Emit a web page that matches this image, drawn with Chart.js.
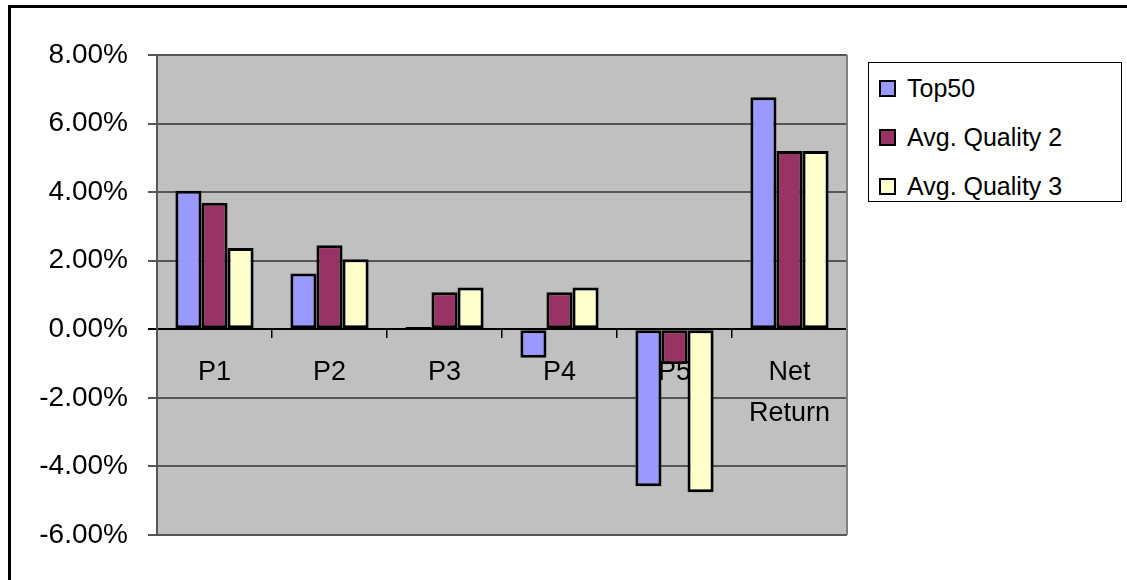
<!DOCTYPE html>
<html>
<head>
<meta charset="utf-8">
<script src="https://cdn.jsdelivr.net/npm/chart.js@4.4.0/dist/chart.umd.min.js"></script>
<style>
  html, body { margin: 0; padding: 0; background: #fff; overflow: hidden; }
  #wrap { position: relative; width: 1127px; height: 580px; }
  #legend {
    position: absolute; left: 868px; top: 62px; width: 254px; height: 140px;
    border: 1px solid #000; background: #fff; box-sizing: border-box;
    font-family: "Liberation Sans", Arial, sans-serif; font-size: 25px; color: #000;
  }
  .item { position: absolute; left: 10px; height: 30px; display: flex; align-items: center; white-space: nowrap; }
  .box { width: 13px; height: 13px; border: 2px solid #000; margin-right: 11px; }
</style>
</head>
<body>
<div id="wrap">
  <canvas id="bar-chart" width="1127" height="580"></canvas>
  <div id="legend"></div>
</div>
<script>
const categories = ["P1", "P2", "P3", "P4", "P5", ["Net", "Return"]];
const seriesNames = ["Top50", "Avg. Quality 2", "Avg. Quality 3"];
const top50 = [4.04, 1.63, 0.07, -0.83, -4.58, 6.77];
const quality2 = [3.69, 2.45, 1.08, 1.08, -1.02, 5.20];
const quality3 = [2.37, 2.04, 1.22, 1.22, -4.75, 5.20];
const yTicks = [-6, -4, -2, 0, 2, 4, 6, 8];

const fontFamily = '"Liberation Sans", Arial, sans-serif';

// grey plot area + outer frame
const plotFrame = {
  id: "plotFrame",
  beforeDraw(chart) {
    const ctx = chart.ctx;
    const a = chart.chartArea;
    ctx.save();
    ctx.fillStyle = "#fff";
    ctx.fillRect(0, 0, chart.width, chart.height);
    ctx.lineWidth = 3;
    ctx.strokeStyle = "#000";
    ctx.strokeRect(9.5, 6.5, chart.width + 50, chart.height + 50);
    ctx.fillStyle = "#c0c0c0";
    ctx.fillRect(a.left, a.top, a.right - a.left, a.bottom - a.top);
    ctx.restore();
  },
  afterDraw(chart) {
    const ctx = chart.ctx;
    const a = chart.chartArea;
    ctx.save();
    ctx.strokeStyle = "#808080";
    ctx.lineWidth = 2;
    ctx.beginPath();
    ctx.moveTo(a.right, a.top);
    ctx.lineTo(a.right, a.bottom);
    ctx.stroke();
    ctx.restore();
  }
};

const data = {
  labels: categories,
  datasets: [
    { label: seriesNames[0], data: top50, backgroundColor: "#9999ff" },
    { label: seriesNames[1], data: quality2, backgroundColor: "#993366" },
    { label: seriesNames[2], data: quality3, backgroundColor: "#ffffcc" }
  ].map(d => Object.assign(d, {
    borderColor: "#000",
    borderWidth: 3,
    borderSkipped: false,
    categoryPercentage: 0.68,
    barPercentage: 1.0
  }))
};

const config = {
  type: "bar",
  data: data,
  options: {
    responsive: false,
    animation: false,
    devicePixelRatio: 1,
    layout: { padding: { left: 0, top: 55, right: 280, bottom: 45 } },
    plugins: {
      legend: { display: false },
      tooltip: { enabled: false }
    },
    scales: {
      x: {
        position: { y: 0 },
        offset: true,
        z: 1,
        grid: {
          offset: true,
          drawOnChartArea: false,
          drawTicks: true,
          tickLength: 8,
          color: "#000",
          lineWidth: 1.5
        },
        border: { display: true, color: "#000", width: 2 },
        ticks: {
          color: "#000",
          font: { family: fontFamily, size: 27, lineHeight: 1.52 },
          padding: 15,
          maxRotation: 0,
          autoSkip: false
        },
        afterFit(scale) { scale.height = 0; }
      },
      y: {
        min: -6,
        max: 8,
        afterBuildTicks(scale) { scale.ticks = yTicks.map(v => ({ value: v })); },
        grid: {
          color: c => (c.tick && c.tick.value === 0 ? "#000" : "#555"),
          lineWidth: 2,
          tickLength: 9,
          drawTicks: true
        },
        border: { color: "#555", width: 2 },
        ticks: {
          color: "#000",
          font: { family: fontFamily, size: 28 },
          padding: 20,
          callback: v => v.toFixed(2) + "%"
        },
        afterFit(scale) { scale.width = 157; }
      }
    }
  },
  plugins: [plotFrame]
};

let ctx = document.getElementById("bar-chart");
const barChart = new Chart(ctx, config);

// legend box built from the chart's own legend items
const legendEl = document.getElementById("legend");
const items = barChart.options.plugins.legend.labels.generateLabels(barChart);
const rowTops = [10, 59, 108];
items.forEach((item, i) => {
  const row = document.createElement("div");
  row.className = "item";
  row.style.top = rowTops[i] + "px";
  const box = document.createElement("span");
  box.className = "box";
  box.style.background = item.fillStyle;
  const txt = document.createElement("span");
  txt.textContent = item.text;
  row.appendChild(box);
  row.appendChild(txt);
  legendEl.appendChild(row);
});
</script>
</body>
</html>
